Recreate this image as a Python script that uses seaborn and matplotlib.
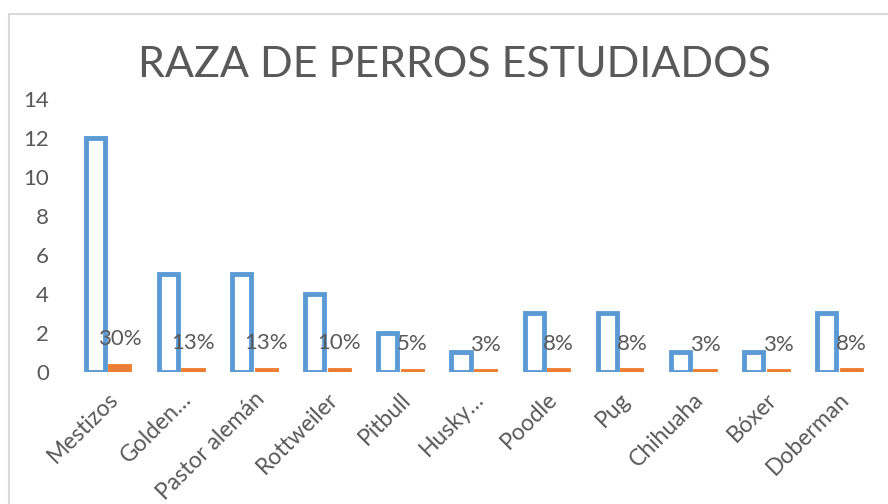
import pandas as pd
import matplotlib
matplotlib.use("Agg")
import matplotlib.pyplot as plt
from matplotlib.patches import Rectangle
import seaborn as sns

# Data
razas = ["Mestizos", "Golden…", "Pastor alemán", "Rottweiler", "Pitbull", "Husky…",
         "Poodle", "Pug", "Chihuaha", "Bóxer", "Doberman"]
cantidad = [12, 5, 5, 4, 2, 1, 3, 3, 1, 1, 3]
porcentaje = [0.30, 0.125, 0.125, 0.10, 0.05, 0.025, 0.075, 0.075, 0.025, 0.025, 0.075]
etiquetas_pct = ["30%", "13%", "13%", "10%", "5%", "3%", "8%", "8%", "3%", "3%", "8%"]

azul = "#5B9BD5"
naranja = "#ED7D31"
gris = "#595959"

df = pd.DataFrame({
    "raza": razas * 2,
    "valor": cantidad + porcentaje,
    "serie": ["Cantidad"] * len(razas) + ["Porcentaje"] * len(razas),
})

sns.set_style("white")
plt.rcParams["font.family"] = ["Lato", "DejaVu Sans"]

fig = plt.figure(figsize=(8.88, 5.04), dpi=100)
ax = fig.add_axes([0.080, 0.262, 0.906, 0.542])

sns.barplot(data=df, x="raza", y="valor", hue="serie", palette=[azul, naranja],
            width=0.67, gap=0.22, ax=ax, legend=False)

# blue series: hollow bars, orange series: solid with thick edge
for bar in ax.containers[0]:
    bar.set_facecolor("white")
    bar.set_edgecolor(azul)
    bar.set_linewidth(3.5)
for bar in ax.containers[1]:
    bar.set_edgecolor(naranja)
    bar.set_linewidth(3.5)

ax.bar_label(ax.containers[1], labels=etiquetas_pct, padding=12, fontsize=16, color=gris)

ax.set_ylim(0, 14)
ax.set_xlim(-0.5, len(razas) - 0.5)
ax.set_yticks(range(0, 15, 2))
ax.set_xlabel("")
ax.set_ylabel("")
ax.tick_params(axis="y", length=0, pad=16, labelsize=16, labelcolor=gris)
ax.tick_params(axis="x", length=0, pad=12, labelsize=16.5, labelcolor=gris)
plt.setp(ax.get_xticklabels(), rotation=45, ha="right", rotation_mode="anchor")
sns.despine(ax=ax, left=True, bottom=True)

fig.text(0.512, 0.871, "RAZA DE PERROS ESTUDIADOS", ha="center", va="center",
         fontsize=31, color=gris)

# chart frame
fig.patches.append(Rectangle((9 / 888, -0.1), 1.0, 1 - 14 / 504 + 0.1,
                             transform=fig.transFigure, fill=False,
                             edgecolor="#D9D9D9", linewidth=1.5))

fig.savefig("out.png", dpi=100)
